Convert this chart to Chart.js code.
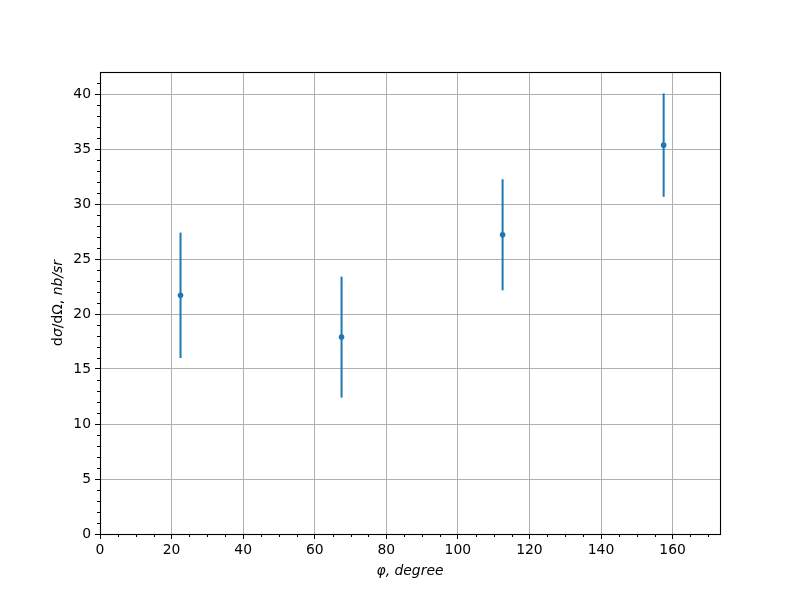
<!DOCTYPE html>
<html>
<head>
<meta charset="utf-8">
<script src="https://cdn.jsdelivr.net/npm/chart.js@4.4.0/dist/chart.umd.min.js"></script>
<style>
  body { margin: 0; background: #fff; }
  #wrap { width: 800px; height: 600px; }
</style>
</head>
<body>
<div id="wrap"><canvas id="errChart" width="800" height="600"></canvas></div>
<script>
// angle bins (degree) and cross-section values with symmetric errors
var phi = [22.5, 67.5, 112.5, 157.5];
var sigma = [21.7, 17.9, 27.2, 35.35];
var sigmaErr = [5.7, 5.5, 5.05, 4.7];

var xTicks = [0, 20, 40, 60, 80, 100, 120, 140, 160];
var yTicks = [0, 5, 10, 15, 20, 25, 30, 35, 40];
var xMinor = [5, 10, 15, 25, 30, 35, 45, 50, 55, 65, 70, 75, 85, 90, 95, 105, 110, 115, 125, 130, 135, 145, 150, 155, 165, 170];
var yMinor = [1, 2, 3, 4, 6, 7, 8, 9, 11, 12, 13, 14, 16, 17, 18, 19, 21, 22, 23, 24, 26, 27, 28, 29, 31, 32, 33, 34, 36, 37, 38, 39, 41];

var blue = "#1f77b4";
var tickFont = { family: "DejaVu Sans", size: 13.9 };

var errorBars = {
  id: "errorBars",
  beforeDatasetsDraw: function (chart) {
    var ctx = chart.ctx;
    var xs = chart.scales.x, ys = chart.scales.y;
    ctx.save();
    ctx.strokeStyle = blue;
    ctx.lineWidth = 2;
    for (var i = 0; i < phi.length; i++) {
      var px = xs.getPixelForValue(phi[i]);
      ctx.beginPath();
      ctx.moveTo(px, ys.getPixelForValue(sigma[i] - sigmaErr[i]));
      ctx.lineTo(px, ys.getPixelForValue(sigma[i] + sigmaErr[i]));
      ctx.stroke();
    }
    ctx.restore();
  }
};

var frameAndLabels = {
  id: "frameAndLabels",
  afterDraw: function (chart) {
    var ctx = chart.ctx;
    var a = chart.chartArea;
    var xs = chart.scales.x, ys = chart.scales.y;
    ctx.save();
    // minor ticks
    ctx.strokeStyle = "#000";
    ctx.lineWidth = 1;
    ctx.beginPath();
    xMinor.forEach(function (v) {
      var p = Math.round(xs.getPixelForValue(v)) + 0.5;
      ctx.moveTo(p, a.bottom);
      ctx.lineTo(p, a.bottom + 3);
    });
    yMinor.forEach(function (v) {
      var p = Math.round(ys.getPixelForValue(v)) + 0.5;
      ctx.moveTo(a.left, p);
      ctx.lineTo(a.left - 3, p);
    });
    ctx.stroke();
    // spines
    ctx.lineWidth = 1.1;
    ctx.strokeRect(Math.round(a.left) + 0.5, Math.round(a.top) + 0.5,
      Math.round(a.right - a.left), Math.round(a.bottom - a.top));

    // x label
    ctx.fillStyle = "#000";
    ctx.font = "italic 13.9px 'DejaVu Sans'";
    ctx.textAlign = "center";
    ctx.textBaseline = "middle";
    ctx.fillText("φ, degree", (a.left + a.right) / 2, 571);

    // y label, mixed upright / italic like mathtext
    var parts = [
      ["normal", "d"], ["italic", "σ"], ["normal", "/dΩ"],
      ["normal", ", "], ["italic", "nb/sr"]
    ];
    var total = 0;
    parts.forEach(function (p) {
      ctx.font = p[0] + " 13.9px 'DejaVu Sans'";
      total += ctx.measureText(p[1]).width;
    });
    ctx.translate(58, (a.top + a.bottom) / 2);
    ctx.rotate(-Math.PI / 2);
    ctx.textAlign = "left";
    var cx = -total / 2;
    parts.forEach(function (p) {
      ctx.font = p[0] + " 13.9px 'DejaVu Sans'";
      ctx.fillText(p[1], cx, 0);
      cx += ctx.measureText(p[1]).width;
    });
    ctx.restore();
  }
};

new Chart(document.getElementById("errChart").getContext("2d"), {
  type: "scatter",
  data: {
    datasets: [{
      label: "data",
      data: phi.map(function (x, i) { return { x: x, y: sigma[i] }; }),
      backgroundColor: blue,
      borderColor: blue,
      pointRadius: 2.8,
      pointBorderWidth: 0,
      pointHoverRadius: 2.8
    }]
  },
  options: {
    responsive: false,
    animation: false,
    events: [],
    layout: { padding: { top: 72, right: 80, left: 0, bottom: 0 } },
    plugins: { legend: { display: false }, tooltip: { enabled: false } },
    scales: {
      x: {
        type: "linear",
        min: 0,
        max: 173.25,
        afterBuildTicks: function (s) { s.ticks = xTicks.map(function (v) { return { value: v }; }); },
        afterFit: function (s) { s.height = 66; },
        border: { display: false },
        grid: { color: "#b0b0b0", lineWidth: 1, tickColor: "#000", tickLength: 5 },
        ticks: { color: "#000", font: tickFont, padding: 3, maxRotation: 0, autoSkip: false }
      },
      y: {
        type: "linear",
        min: 0,
        max: 42,
        afterBuildTicks: function (s) { s.ticks = yTicks.map(function (v) { return { value: v }; }); },
        afterFit: function (s) { s.width = 100; },
        border: { display: false },
        grid: { color: "#b0b0b0", lineWidth: 1, tickColor: "#000", tickLength: 5 },
        ticks: { color: "#000", font: tickFont, padding: 4, autoSkip: false }
      }
    }
  },
  plugins: [errorBars, frameAndLabels]
});
</script>
</body>
</html>
